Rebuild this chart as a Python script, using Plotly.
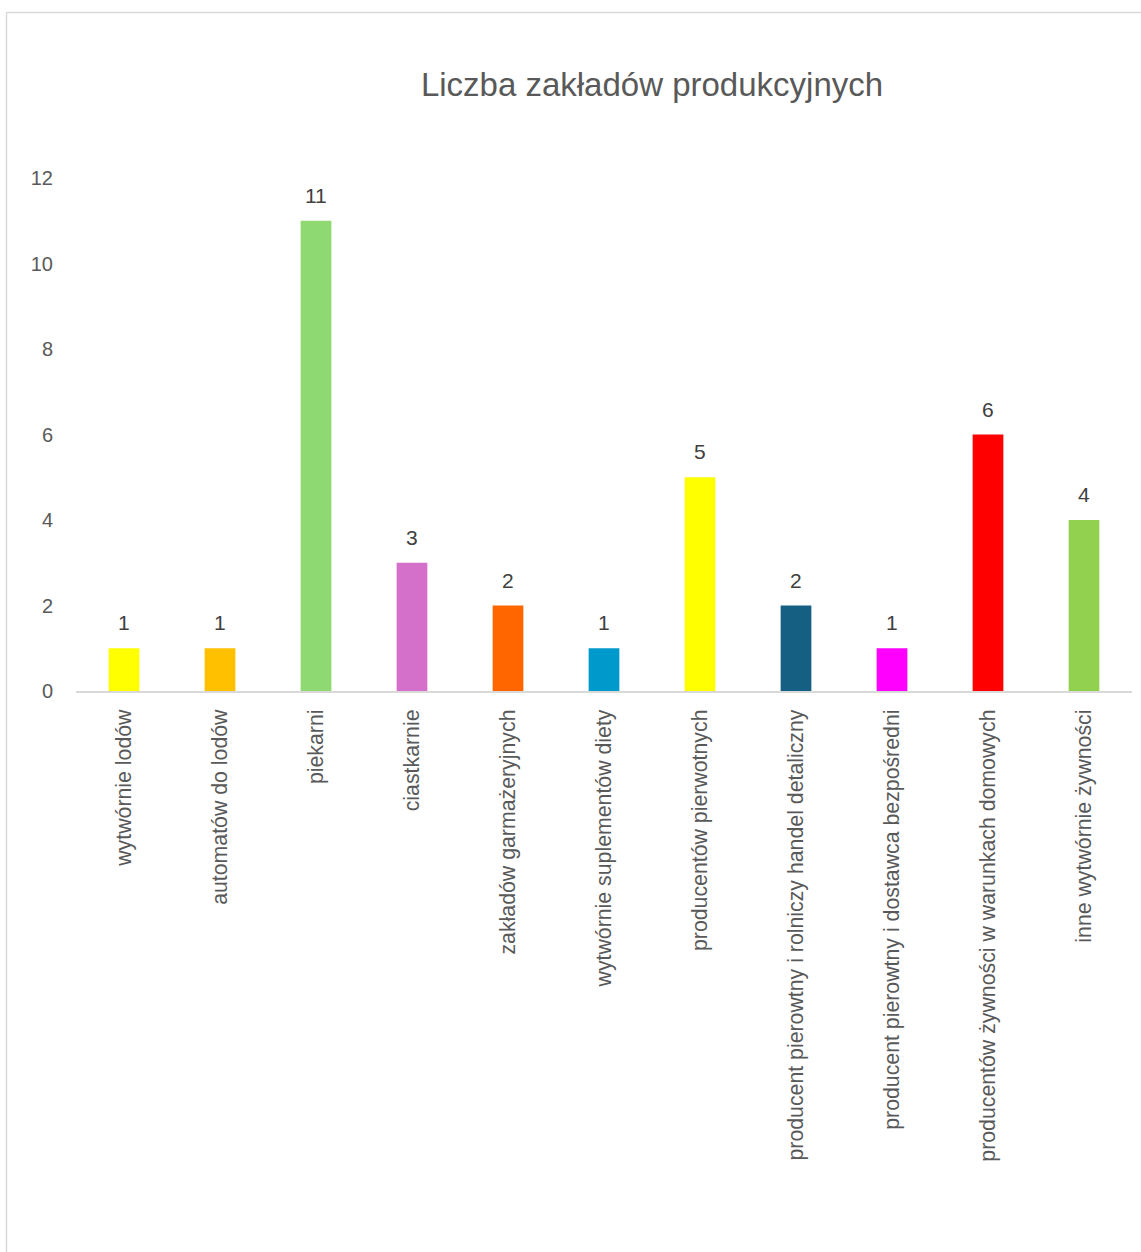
import plotly.graph_objects as go

categories = [
    "wytwórnie lodów",
    "automatów do lodów",
    "piekarni",
    "ciastkarnie",
    "zakładów garmażeryjnych",
    "wytwórnie suplementów diety",
    "producentów pierwotnych",
    "producent pierowtny i rolniczy handel detaliczny",
    "producent pierowtny i dostawca bezpośredni",
    "producentów żywności w warunkach domowych",
    "inne wytwórnie żywności",
]
values = [1, 1, 11, 3, 2, 1, 5, 2, 1, 6, 4]
colors = ["#FFFF00", "#FFC000", "#8FD973", "#D46FCA", "#FF6600", "#0099CC",
          "#FFFF00", "#156082", "#FF00FF", "#FF0000", "#92D050"]
y_ticks = [0, 2, 4, 6, 8, 10, 12]

FONT = "Liberation Sans"
TXT = "#595959"

fig = go.Figure()
fig.add_trace(go.Bar(
    x=categories, y=values, marker=dict(color=colors, line=dict(width=0)),
    width=0.32, showlegend=False, hoverinfo="x+y",
))

for c, v in zip(categories, values):
    fig.add_annotation(x=c, y=v, text=str(v), showarrow=False,
                       yanchor="bottom", yshift=12,
                       font=dict(family=FONT, size=21, color="#404040"))

W, H = 1141, 1252
L, R, T, B = 76, 9, 178, 561
pw, ph = W - L - R, H - T - B

fig.add_shape(type="rect", xref="paper", yref="paper",
              x0=(6.5 - L) / pw, x1=1.5, y0=-2, y1=1 + (T - 12.5) / ph,
              line=dict(color="#D9D9D9", width=1.5), fillcolor="rgba(0,0,0,0)",
              layer="below")

fig.update_layout(
    width=W, height=H,
    margin=dict(l=L, r=R, t=T, b=B),
    paper_bgcolor="white", plot_bgcolor="white",
    title=dict(text="Liczba zakładów produkcyjnych", x=652 / W, xanchor="center",
               y=1 - 84 / H, yanchor="middle",
               font=dict(family=FONT, size=33, color=TXT)),
    font=dict(family=FONT, color=TXT),
)
fig.update_xaxes(
    tickangle=-90, tickfont=dict(family=FONT, size=21.3, color=TXT),
    showline=True, linecolor="#D9D9D9", linewidth=2, ticks="", showgrid=False,
    ticklabelstandoff=8,
)
fig.update_yaxes(
    range=[0, 12], tickvals=y_ticks, showgrid=False, zeroline=False,
    showline=False, ticks="", tickfont=dict(family=FONT, size=20, color=TXT),
    ticklabelstandoff=22,
)
fig.write_html("out.html", config={"displayModeBar": False},
               post_script="document.body.style.margin='0';document.body.style.overflow='hidden';")
